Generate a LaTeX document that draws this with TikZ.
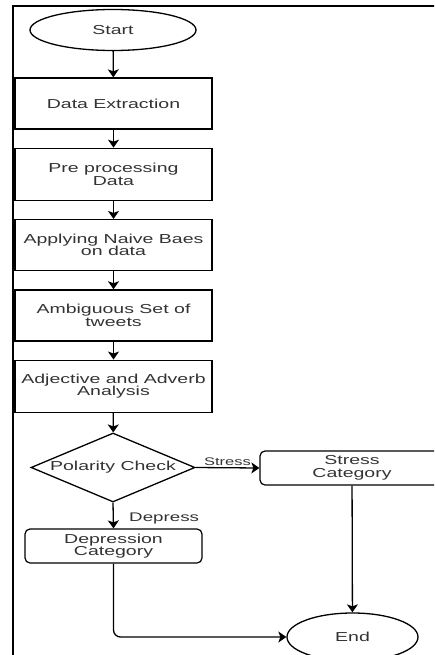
\documentclass[tikz,border=0pt]{standalone}
\usepackage{fontspec}
\newfontfamily\flowfont[FakeStretch=1.5]{Liberation Sans}
\usetikzlibrary{arrows.meta,positioning,shapes.geometric}

\begin{document}
\begin{tikzpicture}[x=1pt, y=-1pt, >={Stealth[length=8pt,width=11pt,inset=2pt]},
	every node/.style={font=\flowfont\fontsize{13}{12.5}\selectfont, text=black!80},
	terminal/.style={draw, line width=1.3pt, ellipse, minimum width=#1, inner sep=0pt},
	process/.style={draw, line width=1.3pt, rectangle, minimum width=197pt, minimum height=51pt, align=center, inner sep=0pt},
	category/.style={draw, line width=1.2pt, rectangle, rounded corners=5pt, minimum height=34pt, align=center, inner sep=0pt},
	decision/.style={draw, line width=1.3pt, diamond, aspect=2.38, minimum width=164pt, minimum height=69pt, inner sep=0pt},
	flow/.style={line width=1.3pt, ->}]
	\useasboundingbox (0,0) rectangle (434,655);
	\clip (0,0) rectangle (434,655);
	% frame of the page
	\draw[line width=2pt] (13,660) -- (13,6.5) -- (440,6.5);
	% main column
	\node[terminal=166pt, minimum height=41pt] (start) at (113,30) {Start};
	\node[process] (extr) at (113.5,103.5) {Data Extraction};
	\node[process, minimum height=52pt, below=18pt of extr] (prep) {Pre processing\\Data};
	\node[process, below=18pt of prep] (naive) {Applying Naive Baes\\on data};
	\node[process, below=18pt of naive] (ambig) {Ambiguous Set of\\tweets};
	\node[process, minimum height=52pt, below=18pt of ambig] (adj) {Adjective and Adverb\\Analysis};
	\node[decision] (check) at (113,467.5) {Polarity Check};
	% outcomes
	\node[category, minimum width=184pt] (stresscat) at (352,468) {Stress\\Category};
	\node[category, minimum width=177pt] (depcat) at (113.5,546) {Depression\\Category};
	\node[terminal=131pt, minimum height=48pt] (end) at (352.5,637) {End};
	% connectors
	\draw[flow] (start) -- (extr);
	\draw[flow] (extr) -- (prep);
	\draw[flow] (prep) -- (naive);
	\draw[flow] (naive) -- (ambig);
	\draw[flow] (ambig) -- (adj);
	\draw[flow] (adj) -- (check);
	\draw[flow] (check.east) -- node[above, inner sep=1.5pt, font=\flowfont\fontsize{11}{11}\selectfont] {Stress} (stresscat.west);
	\draw[flow] (check.south) -- node[right, xshift=12pt, yshift=-3pt, font=\flowfont\fontsize{12.5}{12}\selectfont] {Depress} (depcat.north);
	\draw[flow] (stresscat) -- (end);
	\draw[flow, rounded corners=7pt] (depcat.south) |- (end.west);
\end{tikzpicture}
\end{document}
